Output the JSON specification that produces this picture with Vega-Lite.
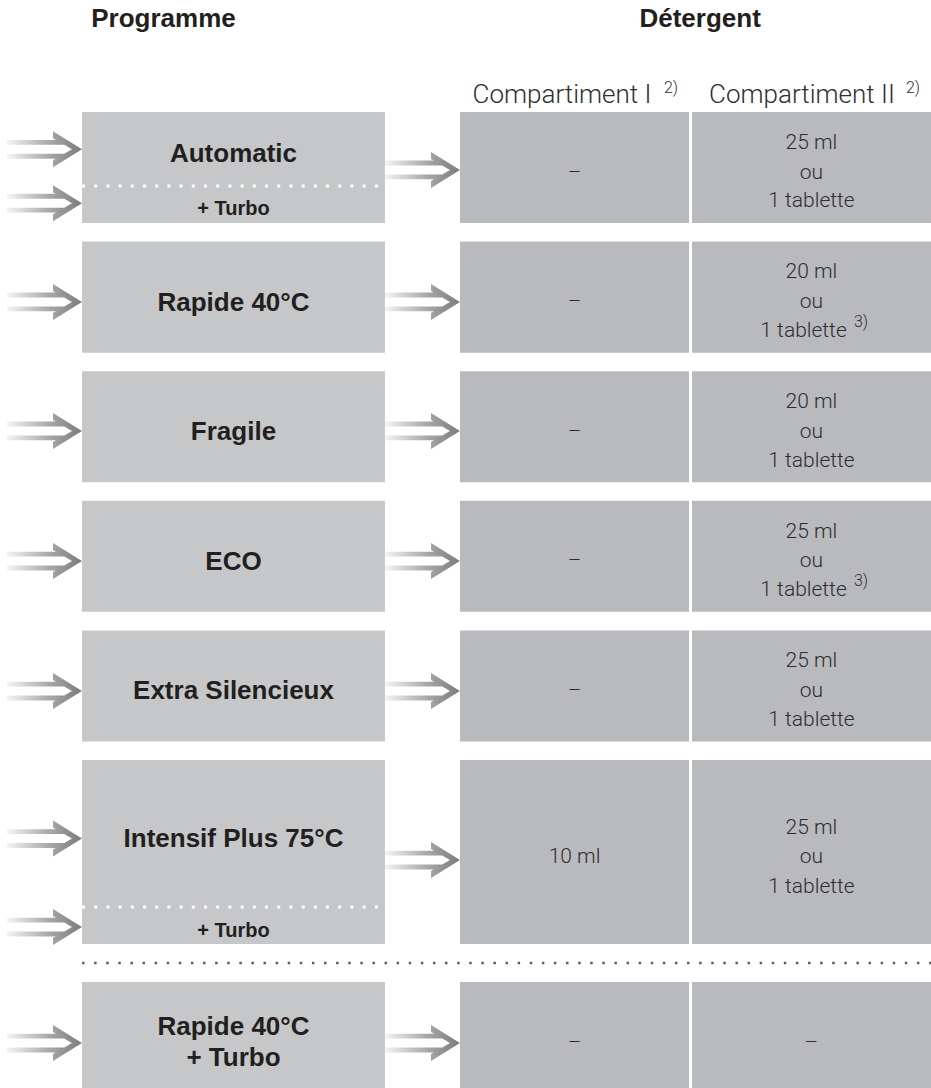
{
  "$schema": "https://vega.github.io/schema/vega-lite/v6.json",
  "width": 931,
  "height": 1088,
  "padding": 0,
  "autosize": {"type": "none"},
  "background": "white",
  "config": {"view": {"stroke": null}},
  "datasets": {
    "cols": [
      {"col": "in", "left": 0.75, "right": 8.81, "mid": 4.78},
      {"col": "prog", "left": 8.81, "right": 41.35, "mid": 25.08},
      {"col": "out", "left": 41.35, "right": 49.41, "mid": 45.38},
      {"col": "c1", "left": 49.41, "right": 74.01, "mid": 61.71},
      {"col": "c2", "left": 74.33, "right": 100, "mid": 87.16},
      {"col": "det", "left": 49.41, "right": 100, "mid": 75.2},
      {"col": "ptitle", "left": 8.81, "right": 41.35, "mid": 17.56},
      {"col": "h1", "left": 49.41, "right": 74.01, "mid": 60.37},
      {"col": "h1s", "left": 49.41, "right": 74.01, "mid": 72.07},
      {"col": "h2", "left": 74.33, "right": 100, "mid": 86.14},
      {"col": "h2s", "left": 74.33, "right": 100, "mid": 98.07},
      {"col": "c2n", "left": 74.33, "right": 100, "mid": 86.31},
      {"col": "c2s", "left": 74.33, "right": 100, "mid": 92.48},
      {"col": "sep", "left": 8.81, "right": 100, "mid": 54.4}
    ],
    "boxes": [
      {"programme": "Automatic", "col": "prog", "top": 0, "bottom": 0.857},
      {"programme": "Automatic", "col": "c1", "top": 0, "bottom": 0.857},
      {"programme": "Automatic", "col": "c2", "top": 0, "bottom": 0.857},
      {"programme": "Rapide 40°C", "col": "prog", "top": 1, "bottom": 1.857},
      {"programme": "Rapide 40°C", "col": "c1", "top": 1, "bottom": 1.857},
      {"programme": "Rapide 40°C", "col": "c2", "top": 1, "bottom": 1.857},
      {"programme": "Fragile", "col": "prog", "top": 2, "bottom": 2.857},
      {"programme": "Fragile", "col": "c1", "top": 2, "bottom": 2.857},
      {"programme": "Fragile", "col": "c2", "top": 2, "bottom": 2.857},
      {"programme": "ECO", "col": "prog", "top": 3, "bottom": 3.857},
      {"programme": "ECO", "col": "c1", "top": 3, "bottom": 3.857},
      {"programme": "ECO", "col": "c2", "top": 3, "bottom": 3.857},
      {"programme": "Extra Silencieux", "col": "prog", "top": 4, "bottom": 4.857},
      {"programme": "Extra Silencieux", "col": "c1", "top": 4, "bottom": 4.857},
      {"programme": "Extra Silencieux", "col": "c2", "top": 4, "bottom": 4.857},
      {"programme": "Intensif Plus 75°C", "col": "prog", "top": 5, "bottom": 6.42},
      {"programme": "Intensif Plus 75°C", "col": "c1", "top": 5, "bottom": 6.42},
      {"programme": "Intensif Plus 75°C", "col": "c2", "top": 5, "bottom": 6.42},
      {"programme": "Rapide 40°C + Turbo", "col": "prog", "top": 6.713, "bottom": 7.531},
      {"programme": "Rapide 40°C + Turbo", "col": "c1", "top": 6.713, "bottom": 7.531},
      {"programme": "Rapide 40°C + Turbo", "col": "c2", "top": 6.713, "bottom": 7.531}
    ],
    "arrows": [
      {"programme": "Automatic", "col": "in", "y": 0.288},
      {"programme": "Automatic + Turbo", "col": "in", "y": 0.704},
      {"programme": "Automatic", "col": "out", "y": 0.4475},
      {"programme": "Rapide 40°C", "col": "in", "y": 1.466},
      {"programme": "Rapide 40°C", "col": "out", "y": 1.466},
      {"programme": "Fragile", "col": "in", "y": 2.461},
      {"programme": "Fragile", "col": "out", "y": 2.461},
      {"programme": "ECO", "col": "in", "y": 3.465},
      {"programme": "ECO", "col": "out", "y": 3.465},
      {"programme": "Extra Silencieux", "col": "in", "y": 4.468},
      {"programme": "Extra Silencieux", "col": "out", "y": 4.468},
      {"programme": "Intensif Plus 75°C", "col": "in", "y": 5.606},
      {"programme": "Intensif Plus 75°C + Turbo", "col": "in", "y": 6.289},
      {"programme": "Intensif Plus 75°C", "col": "out", "y": 5.772},
      {"programme": "Rapide 40°C + Turbo", "col": "in", "y": 7.184},
      {"programme": "Rapide 40°C + Turbo", "col": "out", "y": 7.184}
    ],
    "dividers": [
      {"kind": "turbo-split", "col": "prog", "y": 0.571},
      {"kind": "turbo-split", "col": "prog", "y": 6.134},
      {"kind": "section-break", "col": "sep", "y": 6.566}
    ],
    "labels": [
      {"role": "title", "text": "Programme", "col": "ptitle", "y": -0.656},
      {"role": "title", "text": "Détergent", "col": "det", "y": -0.656},
      {"role": "header", "text": "Compartiment I", "col": "h1", "y": -0.069},
      {"role": "header", "text": "Compartiment II", "col": "h2", "y": -0.069},
      {"role": "headnote", "text": "2)", "col": "h1s", "y": -0.147},
      {"role": "headnote", "text": "2)", "col": "h2s", "y": -0.147},
      {"role": "programme", "text": "Automatic", "col": "prog", "y": 0.386},
      {"role": "programme", "text": "Rapide 40°C", "col": "prog", "y": 1.534},
      {"role": "programme", "text": "Fragile", "col": "prog", "y": 2.531},
      {"role": "programme", "text": "ECO", "col": "prog", "y": 3.531},
      {"role": "programme", "text": "Extra Silencieux", "col": "prog", "y": 4.531},
      {"role": "programme", "text": "Intensif Plus 75°C", "col": "prog", "y": 5.671},
      {"role": "programme", "text": "Rapide 40°C", "col": "prog", "y": 7.122},
      {"role": "programme", "text": "+ Turbo", "col": "prog", "y": 7.361},
      {"role": "option", "text": "+ Turbo", "col": "prog", "y": 0.795},
      {"role": "option", "text": "+ Turbo", "col": "prog", "y": 6.366},
      {"role": "dose", "text": "–", "col": "c1", "y": 0.517},
      {"role": "dose", "text": "–", "col": "c1", "y": 1.512},
      {"role": "dose", "text": "–", "col": "c1", "y": 2.512},
      {"role": "dose", "text": "–", "col": "c1", "y": 3.512},
      {"role": "dose", "text": "–", "col": "c1", "y": 4.512},
      {"role": "dose", "text": "10 ml", "col": "c1", "y": 5.795},
      {"role": "dose", "text": "–", "col": "c1", "y": 7.23},
      {"role": "dose", "text": "25 ml", "col": "c2", "y": 0.286},
      {"role": "dose", "text": "ou", "col": "c2", "y": 0.516},
      {"role": "dose", "text": "1 tablette", "col": "c2", "y": 0.736},
      {"role": "dose", "text": "20 ml", "col": "c2", "y": 1.284},
      {"role": "dose", "text": "ou", "col": "c2", "y": 1.514},
      {"role": "dose", "text": "1 tablette", "col": "c2n", "y": 1.736},
      {"role": "dose", "text": "20 ml", "col": "c2", "y": 2.284},
      {"role": "dose", "text": "ou", "col": "c2", "y": 2.514},
      {"role": "dose", "text": "1 tablette", "col": "c2", "y": 2.736},
      {"role": "dose", "text": "25 ml", "col": "c2", "y": 3.284},
      {"role": "dose", "text": "ou", "col": "c2", "y": 3.514},
      {"role": "dose", "text": "1 tablette", "col": "c2n", "y": 3.736},
      {"role": "dose", "text": "25 ml", "col": "c2", "y": 4.284},
      {"role": "dose", "text": "ou", "col": "c2", "y": 4.514},
      {"role": "dose", "text": "1 tablette", "col": "c2", "y": 4.736},
      {"role": "dose", "text": "25 ml", "col": "c2", "y": 5.571},
      {"role": "dose", "text": "ou", "col": "c2", "y": 5.795},
      {"role": "dose", "text": "1 tablette", "col": "c2", "y": 6.026},
      {"role": "dose", "text": "–", "col": "c2", "y": 7.23},
      {"role": "note", "text": "3)", "col": "c2s", "y": 1.659},
      {"role": "note", "text": "3)", "col": "c2s", "y": 3.659}
    ]
  },
  "layer": [
    {
      "data": {"name": "boxes"},
      "transform": [{"lookup": "col", "from": {"data": {"name": "cols"}, "key": "col", "fields": ["left", "right"]}}],
      "mark": {"type": "rect"},
      "encoding": {
        "x": {"field": "left", "type": "quantitative", "axis": null, "scale": {"type": "linear", "domain": [0, 100], "nice": false, "zero": false}},
        "x2": {"field": "right"},
        "y": {"field": "top", "type": "quantitative", "axis": null, "scale": {"type": "linear", "domain": [-0.8642, 7.5309], "nice": false, "zero": false, "reverse": true}},
        "y2": {"field": "bottom"},
        "color": {"field": "col", "type": "nominal", "legend": null, "scale": {"domain": ["prog", "c1", "c2"], "range": ["#c6c7c9", "#b9babd", "#b9babd"]}}
      }
    },
    {
      "data": {"name": "dividers"},
      "transform": [
        {"filter": "datum.kind === 'turbo-split'"},
        {"lookup": "col", "from": {"data": {"name": "cols"}, "key": "col", "fields": ["left", "right"]}}
      ],
      "mark": {"type": "rule", "color": "#ffffff", "strokeWidth": 3, "strokeDash": [3, 9.2], "strokeCap": "butt"},
      "encoding": {
        "x": {"field": "left", "type": "quantitative", "axis": null, "scale": {"type": "linear", "domain": [0, 100], "nice": false, "zero": false}},
        "x2": {"field": "right"},
        "y": {"field": "y", "type": "quantitative", "axis": null, "scale": {"type": "linear", "domain": [-0.8642, 7.5309], "nice": false, "zero": false, "reverse": true}}
      }
    },
    {
      "data": {"name": "dividers"},
      "transform": [
        {"filter": "datum.kind === 'section-break'"},
        {"lookup": "col", "from": {"data": {"name": "cols"}, "key": "col", "fields": ["left", "right"]}}
      ],
      "mark": {"type": "rule", "color": "#5e5f62", "strokeWidth": 2.5, "strokeDash": [2.5, 9.6], "strokeCap": "butt"},
      "encoding": {
        "x": {"field": "left", "type": "quantitative", "axis": null, "scale": {"type": "linear", "domain": [0, 100], "nice": false, "zero": false}},
        "x2": {"field": "right"},
        "y": {"field": "y", "type": "quantitative", "axis": null, "scale": {"type": "linear", "domain": [-0.8642, 7.5309], "nice": false, "zero": false, "reverse": true}}
      }
    },
    {
      "data": {"name": "arrows"},
      "transform": [{"lookup": "col", "from": {"data": {"name": "cols"}, "key": "col", "fields": ["mid"]}}],
      "mark": {
        "type": "point",
        "filled": true,
        "opacity": 1,
        "strokeWidth": 0,
        "size": 5625,
        "shape": "M-1,-0.25L0.35,-0.25L0.526,-0.12L-1,-0.12Z M-1,0.12L0.526,0.12L0.35,0.25L-1,0.25Z M0.227,-0.48L1,0L0.733,0L0.227,-0.293Z M0.227,0.293L0.733,0L1,0L0.227,0.48Z",
        "fill": {"gradient": "linear", "x1": 0, "y1": 0, "x2": 1, "y2": 0, "stops": [
          {"offset": 0, "color": "#f4f4f4"},
          {"offset": 0.55, "color": "#a9a9ab"},
          {"offset": 1, "color": "#7b7b7e"}
        ]}
      },
      "encoding": {
        "x": {"field": "mid", "type": "quantitative", "axis": null, "scale": {"type": "linear", "domain": [0, 100], "nice": false, "zero": false}},
        "y": {"field": "y", "type": "quantitative", "axis": null, "scale": {"type": "linear", "domain": [-0.8642, 7.5309], "nice": false, "zero": false, "reverse": true}}
      }
    },
    {
      "data": {"name": "labels"},
      "transform": [
        {"filter": "datum.role === 'title' || datum.role === 'programme'"},
        {"lookup": "col", "from": {"data": {"name": "cols"}, "key": "col", "fields": ["mid"]}}
      ],
      "mark": {"type": "text", "font": "Liberation Sans", "fontWeight": "bold", "fontSize": 26, "color": "#231f20", "align": "center", "baseline": "alphabetic"},
      "encoding": {
        "x": {"field": "mid", "type": "quantitative", "axis": null, "scale": {"type": "linear", "domain": [0, 100], "nice": false, "zero": false}},
        "y": {"field": "y", "type": "quantitative", "axis": null, "scale": {"type": "linear", "domain": [-0.8642, 7.5309], "nice": false, "zero": false, "reverse": true}},
        "text": {"field": "text"}
      }
    },
    {
      "data": {"name": "labels"},
      "transform": [
        {"filter": "datum.role === 'option'"},
        {"lookup": "col", "from": {"data": {"name": "cols"}, "key": "col", "fields": ["mid"]}}
      ],
      "mark": {"type": "text", "font": "Liberation Sans", "fontWeight": "bold", "fontSize": 20, "color": "#231f20", "align": "center", "baseline": "alphabetic"},
      "encoding": {
        "x": {"field": "mid", "type": "quantitative", "axis": null, "scale": {"type": "linear", "domain": [0, 100], "nice": false, "zero": false}},
        "y": {"field": "y", "type": "quantitative", "axis": null, "scale": {"type": "linear", "domain": [-0.8642, 7.5309], "nice": false, "zero": false, "reverse": true}},
        "text": {"field": "text"}
      }
    },
    {
      "data": {"name": "labels"},
      "transform": [
        {"filter": "datum.role === 'header'"},
        {"lookup": "col", "from": {"data": {"name": "cols"}, "key": "col", "fields": ["mid"]}}
      ],
      "mark": {"type": "text", "font": "Roboto", "fontWeight": 300, "fontSize": 26, "color": "#2e2e2e", "align": "center", "baseline": "alphabetic"},
      "encoding": {
        "x": {"field": "mid", "type": "quantitative", "axis": null, "scale": {"type": "linear", "domain": [0, 100], "nice": false, "zero": false}},
        "y": {"field": "y", "type": "quantitative", "axis": null, "scale": {"type": "linear", "domain": [-0.8642, 7.5309], "nice": false, "zero": false, "reverse": true}},
        "text": {"field": "text"}
      }
    },
    {
      "data": {"name": "labels"},
      "transform": [
        {"filter": "datum.role === 'headnote' || datum.role === 'note'"},
        {"lookup": "col", "from": {"data": {"name": "cols"}, "key": "col", "fields": ["mid"]}}
      ],
      "mark": {"type": "text", "font": "Roboto", "fontWeight": 300, "fontSize": 16, "color": "#2e2e2e", "align": "center", "baseline": "alphabetic"},
      "encoding": {
        "x": {"field": "mid", "type": "quantitative", "axis": null, "scale": {"type": "linear", "domain": [0, 100], "nice": false, "zero": false}},
        "y": {"field": "y", "type": "quantitative", "axis": null, "scale": {"type": "linear", "domain": [-0.8642, 7.5309], "nice": false, "zero": false, "reverse": true}},
        "text": {"field": "text"}
      }
    },
    {
      "data": {"name": "labels"},
      "transform": [
        {"filter": "datum.role === 'dose'"},
        {"lookup": "col", "from": {"data": {"name": "cols"}, "key": "col", "fields": ["mid"]}}
      ],
      "mark": {"type": "text", "font": "Roboto", "fontWeight": 300, "fontSize": 21, "color": "#2e2e2e", "align": "center", "baseline": "alphabetic"},
      "encoding": {
        "x": {"field": "mid", "type": "quantitative", "axis": null, "scale": {"type": "linear", "domain": [0, 100], "nice": false, "zero": false}},
        "y": {"field": "y", "type": "quantitative", "axis": null, "scale": {"type": "linear", "domain": [-0.8642, 7.5309], "nice": false, "zero": false, "reverse": true}},
        "text": {"field": "text"}
      }
    }
  ]
}
